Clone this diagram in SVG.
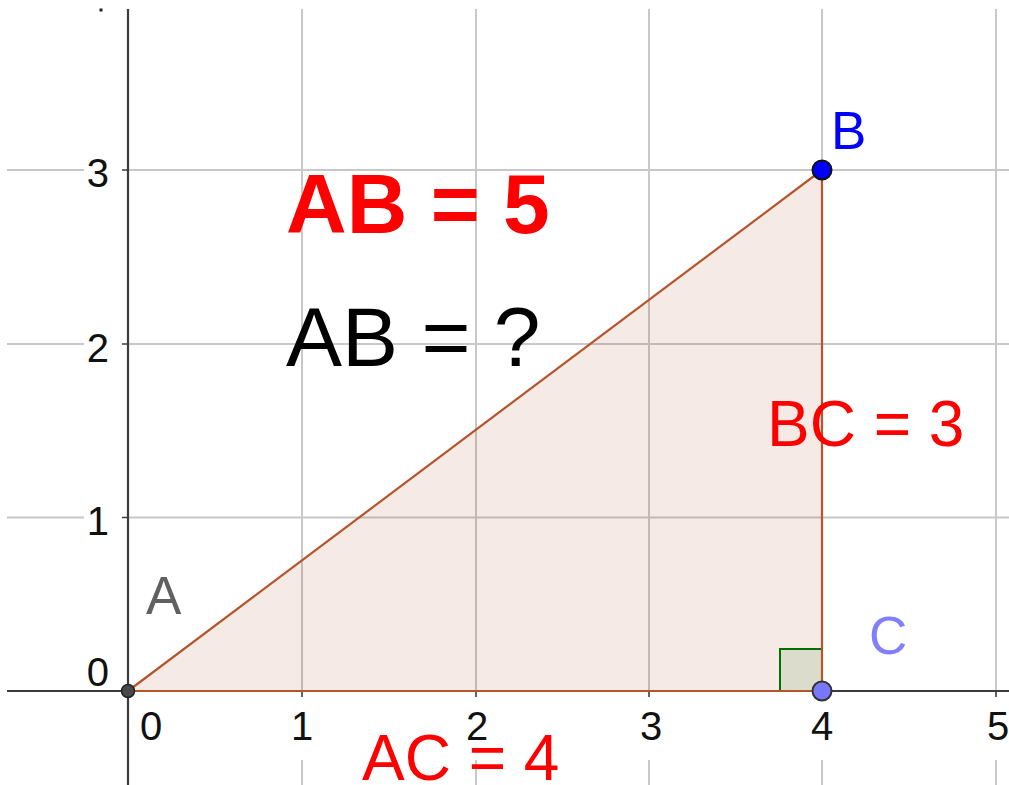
<svg xmlns="http://www.w3.org/2000/svg" width="1009" height="785" viewBox="0 0 1009 785">
<style>
.grid{stroke:#c8c8c8;stroke-width:2;fill:none}
.axis{stroke:#3c3c3c;stroke-width:2.2;fill:none}
.tick{stroke:#3c3c3c;stroke-width:1.6}
.num{font-family:"Liberation Sans",Arial,sans-serif;font-size:40px;fill:#111}
.big{font-family:"Liberation Sans",Arial,sans-serif;fill:#ff0000}
.side{stroke:#b4552a;stroke-width:2.2;fill:none;stroke-linecap:round}
.lbl{font-family:"Liberation Sans",Arial,sans-serif;font-size:53px}
</style>
<rect width="1009" height="785" fill="#ffffff"/>
<g id="grid">
  <path class="grid" d="M302 9V691M476 9V691M649 9V691M822 9V691M996 9V691"/>
  <path class="grid" d="M302 760V785M476 760V785M649 760V785M822 760V785M996 760V785"/>
  <path class="grid" d="M128 170H1009M128 344H1009M128 517.5H1009"/>
  <path class="grid" d="M7 170H84M7 344H84M7 517.5H84"/>
</g>
<g id="triangle-fill">
  <polygon points="128,691 822,170 822,691" fill="#993300" fill-opacity="0.1"/>
</g>
<g id="axes">
  <path class="axis" d="M7 691H1009M128 9V785"/>
  <path class="tick" d="M122 170H128M122 344H128M122 517.5H128M302 691V697M476 691V697M649 691V697M822 691V697M996 691V697"/>
  <rect x="99.5" y="8.5" width="3" height="3" fill="#222"/>
</g>
<g id="axis-labels">
  <text class="num" x="109" y="187" text-anchor="end">3</text>
  <text class="num" x="109" y="362" text-anchor="end">2</text>
  <text class="num" x="109" y="535" text-anchor="end">1</text>
  <text class="num" x="109" y="686" text-anchor="end">0</text>
  <text class="num" x="151" y="740" text-anchor="middle">0</text>
  <text class="num" x="302" y="740" text-anchor="middle">1</text>
  <text class="num" x="477" y="740" text-anchor="middle">2</text>
  <text class="num" x="651" y="740" text-anchor="middle">3</text>
  <text class="num" x="822" y="740" text-anchor="middle">4</text>
  <text class="num" x="998" y="740" text-anchor="middle">5</text>
</g>
<g id="right-angle">
  <rect x="780" y="649" width="42" height="42" fill="#006400" fill-opacity="0.1" stroke="#007000" stroke-width="2"/>
</g>
<g id="connectors">
  <line class="side" x1="128" y1="691" x2="822" y2="170"/>
  <line class="side" x1="822" y1="170" x2="822" y2="691"/>
  <line class="side" x1="128" y1="691" x2="822" y2="691"/>
</g>
<g id="node-A">
  <circle cx="128" cy="691" r="6.5" fill="#4a4a4a" stroke="#222" stroke-width="1.5"/>
  <text class="lbl" x="146" y="614" fill="#606060">A</text>
</g>
<g id="node-B">
  <circle cx="822" cy="170" r="9.5" fill="#0000ff" stroke="#111" stroke-width="2"/>
  <text class="lbl" x="831" y="149" fill="#0000ff">B</text>
</g>
<g id="node-C">
  <circle cx="822" cy="691" r="9.5" fill="#7878ff" stroke="#333" stroke-width="2"/>
  <text class="lbl" x="869" y="654" fill="#8080ff">C</text>
</g>
<g id="texts">
  <text class="big" x="286" y="233" font-size="84" font-weight="bold">AB = 5</text>
  <text x="286" y="366" font-size="84" font-family="Liberation Sans, Arial, sans-serif" fill="#000">AB = ?</text>
  <text class="big" x="767" y="446" font-size="64">BC = 3</text>
  <text class="big" x="362" y="780" font-size="64">AC = 4</text>
</g>
</svg>
